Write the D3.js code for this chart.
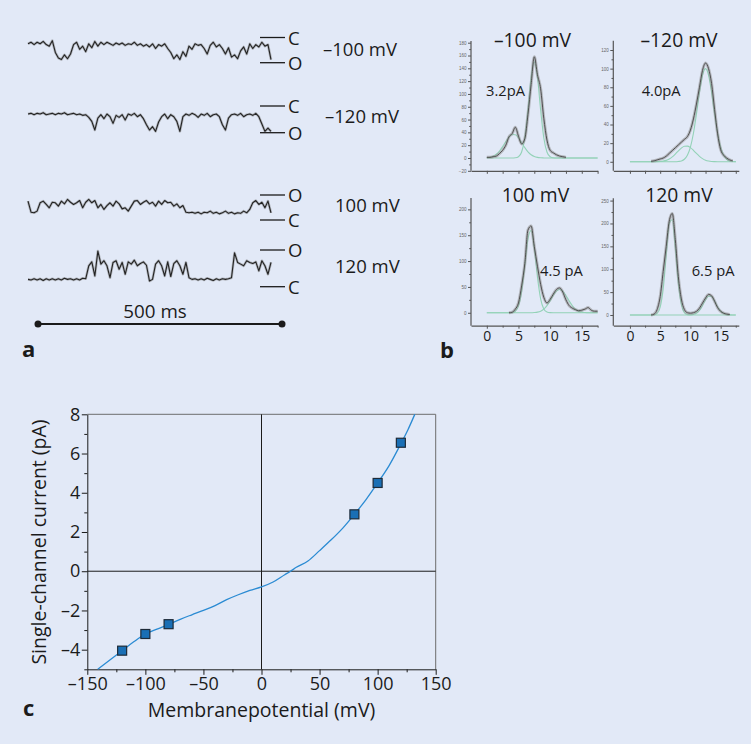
<!DOCTYPE html>
<html>
<head>
<meta charset="utf-8">
<script src="https://cdn.jsdelivr.net/npm/d3@7"></script>
<style>
  body { margin: 0; background: #e2e9f7; }
  svg { display: block; font-family: "Open Sans", Lato, sans-serif; }
</style>
</head>
<body>
<svg id="fig" width="751" height="744"></svg>
<script>
// ---------- panel a: single-channel recordings (current, pA, sampled over 500 ms) ----------
var traceLabels = ["–100 mV", "–120 mV", "100 mV", "120 mV"];
var openLevels = [-3.2, -4.0, 4.5, 6.5];

var traceM100 = [-0.8,-0.6,-0.9,-0.6,-0.8,-0.5,-0.9,-1.1,-0.4,-1.9,-2.6,-2.8,-2.2,-2.7,-2.1,-0.9,-0.6,-1.5,-1.1,-1.8,
  -0.8,-1.3,-0.5,-1.1,-0.6,-0.9,-0.6,-0.8,-1.0,-0.7,-0.9,-0.7,-1.0,-0.8,-0.9,-0.6,-1.0,-0.8,-1.1,-0.9,
  -1.2,-0.8,-1.4,-0.9,-1.1,-0.8,-1.4,-1.9,-2.7,-2.2,-2.8,-1.8,-2.4,-1.1,-1.5,-0.8,-1.0,-0.9,-1.4,-2.1,
  -1.0,-0.6,-1.2,-0.9,-1.4,-2.1,-1.3,-2.5,-2.2,-2.7,-1.7,-1.2,-2.1,-0.8,-1.4,-0.9,-1.2,-0.6,-1.1,-0.9,-2.8];
var traceM120 = [-1.2,-1.1,-1.3,-1.1,-1.2,-1.0,-1.3,-1.2,-1.1,-1.3,-1.1,-1.2,-1.0,-1.3,-1.2,-1.1,-1.3,-1.2,-1.4,-1.3,
  -1.7,-2.3,-3.6,-1.8,-1.3,-1.9,-1.2,-1.6,-2.6,-1.4,-1.7,-1.3,-2.1,-1.2,-1.4,-1.1,-1.6,-1.3,-1.9,-2.8,
  -3.6,-3.1,-3.8,-2.4,-1.6,-1.2,-1.9,-1.3,-1.6,-2.3,-3.8,-1.6,-1.2,-1.4,-1.1,-1.3,-1.7,-1.2,-1.4,-1.1,
  -1.6,-1.3,-1.2,-1.6,-2.8,-3.6,-1.8,-1.3,-1.2,-1.4,-1.1,-1.6,-1.3,-1.2,-1.4,-1.1,-1.6,-2.7,-3.8,-3.3,-3.8];
var trace100 = [3.4,1.4,1.3,1.6,3.1,3.4,2.8,2.2,3.2,3.1,2.5,3.4,2.9,3.7,3.2,2.8,3.1,3.5,2.2,3.2,
  3.7,3.1,3.5,2.2,2.8,1.9,2.6,3.1,2.5,3.4,2.9,2.0,2.2,1.6,2.5,3.4,3.5,2.8,3.2,3.5,
  2.9,3.2,2.5,3.4,2.8,3.5,3.1,3.2,2.5,2.9,2.2,2.6,1.4,1.3,1.4,1.2,1.4,1.1,1.4,1.3,
  1.6,1.2,1.4,1.1,1.3,1.6,1.2,1.4,1.1,1.3,1.2,1.6,1.3,1.9,3.1,3.5,2.8,3.2,2.2,3.4,1.3];
var trace120 = [1.3,1.2,1.4,1.2,1.4,1.1,1.4,1.2,1.4,1.2,1.4,1.2,1.5,1.3,1.4,1.2,1.4,1.2,1.5,1.4,
  3.7,4.4,1.9,6.3,4.0,4.6,3.7,1.6,4.3,4.6,3.1,4.3,2.2,4.4,4.0,4.7,3.7,4.1,4.4,3.8,
  1.0,1.3,4.0,4.6,3.7,1.9,4.4,1.8,4.1,4.6,3.7,2.2,4.3,1.6,1.3,1.4,1.2,1.4,1.2,1.5,
  1.3,1.1,1.4,1.2,1.4,1.3,1.4,1.6,6.0,4.3,4.0,3.7,4.6,4.3,4.1,4.4,2.8,4.6,3.7,2.2,4.3];
var traceDuration = 500; // ms

// ---------- panel b: amplitude histograms ----------
var histBins = [0,0.5,1,1.5,2,2.5,3,3.5,4,4.5,5,5.5,6,6.5,7,7.5,8,8.5,9,9.5,10,10.5,11,11.5,12,12.5,13,13.5,14,14.5,15,15.5,16,16.5,17,17.5];
var histTitles = ["–100 mV", "–120 mV", "100 mV", "120 mV"];
var histAmps = ["3.2pA", "4.0pA", "4.5 pA", "6.5 pA"];

var histM100 = [1,1,2,3,7,12,20,33,38,48,34,22,30,68,115,158,130,108,62,28,12,8,5,3,2,1,null,null,null,null,null,null,null,null,null,null];
var fitM100a = [0.4,1.1,2.7,5.8,10.8,17.7,25.6,32.6,36.6,36.2,31.4,24.0,16.2,9.6,5.0,2.3,0.9,0.3,0.1,0,0,0,0,0,0,0,0,0,0,0,0,0,0,0,0,0];
var fitM100b = [0,0,0,0,0,0,0,0,0,0.3,2.0,9.4,31.6,75,126,150,126,75,31.6,9.4,2.0,0.3,0,0,0,0,0,0,0,0,0,0,0,0,0,0];

var histM120 = [null,null,null,null,null,null,null,0.5,1,2,3,4,6,9,12,15,18,21,24,27,34,46,62,80,98,106,100,84,56,30,13,7,4,2,1,null];
var fitM120a = [0,0,0,0,0,0,0,0,0,0.1,0.3,0.7,1.5,3.0,5.3,8.3,11.7,14.7,16.7,16.8,15.2,12.3,8.9,5.8,3.4,1.7,0.8,0.3,0.1,0,0,0,0,0,0,0];
var fitM120b = [0,0,0,0,0,0,0,0,0,0,0,0,0,0,0,0,0.3,0.9,2.7,7.0,15.7,30.6,51.4,74.4,92.9,100,92.9,74.4,51.4,30.6,15.7,7.0,2.7,0.9,0.3,0.1];

var hist100 = [null,null,null,null,null,null,null,0,1,7,19,52,95,160,168,128,90,55,30,19,26,36,45,48,40,25,14,9,6,4,5,7,10,5,3,3];
var fit100a = [0,0,0,0,0,0,0,0,0.5,3.0,13,41,91,143,159,125,69,27,7.5,1.5,0.2,0,0,0,0,0,0,0,0,0,0,0,0,0,0,0];
var fit100b = [0,0,0,0,0,0,0,0,0,0,0,0,0,0,0,0.4,1.2,3.1,7.1,13.8,23,33.5,41.8,45,41.8,33.5,23,13.8,7.1,3.1,1.2,0.4,0,0,0,0];

var hist120 = [null,null,null,null,null,null,null,0,2,12,40,95,150,205,222,165,84,35,12,5,4,5,8,15,26,37,45,42,30,16,8,4,2,1,null,null];
var fit120a = [0,0,0,0,0,0,0,0,0.5,3.5,17,57,130,200,208,147,70,22.5,4.9,0.7,0,0,0,0,0,0,0,0,0,0,0,0,0,0,0,0];
var fit120b = [0,0,0,0,0,0,0,0,0,0,0,0,0,0,0,0,0,0,0,0,0.25,1.1,3.7,9.9,20.4,32.9,41.2,40.2,30.5,18,8.3,3.0,0.8,0.2,0,0];

// ---------- panel c: current-voltage relation ----------
var ivVoltage = [-120, -100, -80, 80, 100, 120];
var ivCurrent = [-4.05, -3.2, -2.7, 2.9, 4.5, 6.55];
var fitVoltage = [-141,-130,-120,-110,-100,-90,-80,-70,-60,-50,-40,-30,-20,-10,0,10,20,25,30,40,50,60,70,80,90,100,110,120,126,132];
var fitCurrent = [-5,-4.5,-4.05,-3.6,-3.2,-2.95,-2.72,-2.45,-2.22,-2.0,-1.75,-1.45,-1.2,-0.98,-0.8,-0.55,-0.18,0,0.2,0.52,1.05,1.6,2.2,2.9,3.65,4.5,5.4,6.5,7.2,8.0];
var ivXTicks = [-150, -100, -50, 0, 50, 100, 150];
var ivYTicks = [-4, -2, 0, 2, 4, 6, 8];

var svg = d3.select("#fig");
var ink = "#1b1b1b";
var dashFmt = function (d) { return d < 0 ? "–" + (-d) : String(d); };

svg.append("rect").attr("width", 751).attr("height", 744).attr("fill", "#e2e9f7");

// ===== panel a =====
var traceX = d3.scaleLinear().domain([0, traceDuration]).range([28, 271]);
var traceRows = [
  { data: traceM100, c: 37.5, o: 62.7, lx: 323, ly: 56 },
  { data: traceM120, c: 106, o: 132.7, lx: 325, ly: 122.7 },
  { data: trace100, c: 220, o: 195, lx: 335, ly: 211.7 },
  { data: trace120, c: 286.7, o: 250, lx: 335, ly: 273.3 }
];

traceRows.forEach(function (r, k) {
  var y = d3.scaleLinear().domain([0, openLevels[k]]).range([r.c, r.o]);
  var n = r.data.length;
  var line = d3.line()
    .x(function (d, i) { return traceX(i * traceDuration / (n - 1)); })
    .y(function (d) { return y(d); });

  svg.append("path")
    .attr("d", line(r.data))
    .attr("fill", "none")
    .attr("stroke", "#777")
    .attr("stroke-opacity", 0.45)
    .attr("stroke-width", 2.6)
    .attr("stroke-linejoin", "round");
  svg.append("path")
    .attr("d", line(r.data))
    .attr("fill", "none")
    .attr("stroke", "#222")
    .attr("stroke-width", 1.1)
    .attr("stroke-linejoin", "round");

  // closed / open reference marks
  [[0, "C"], [openLevels[k], "O"]].forEach(function (lv) {
    svg.append("line")
      .attr("x1", 260).attr("x2", 285)
      .attr("y1", y(lv[0])).attr("y2", y(lv[0]))
      .attr("stroke", ink).attr("stroke-width", 1.3);
    svg.append("text")
      .attr("x", 288).attr("y", y(lv[0]) + 7)
      .attr("font-size", 18.5).attr("fill", ink)
      .text(lv[1]);
  });

  svg.append("text")
    .attr("x", r.lx).attr("y", r.ly)
    .attr("font-size", 18.5).attr("fill", ink)
    .text(traceLabels[k]);
});

// 500 ms scale bar
var barX = d3.scaleLinear().domain([0, traceDuration]).range([38, 282]);
svg.append("line")
  .attr("x1", barX(0)).attr("x2", barX(traceDuration))
  .attr("y1", 324).attr("y2", 324)
  .attr("stroke", ink).attr("stroke-width", 2);
svg.selectAll("circle.bar")
  .data([0, traceDuration])
  .enter().append("circle")
  .attr("cx", function (d) { return barX(d); })
  .attr("cy", 324).attr("r", 3.5).attr("fill", ink);
svg.append("text")
  .attr("x", 155).attr("y", 318)
  .attr("text-anchor", "middle").attr("font-size", 18.8).attr("fill", ink)
  .text("500 ms");

// ===== panel b =====
var histPanels = [
  { hist: histM100, fa: fitM100a, fb: fitM100b, xd: [-2.5, 17.5], xr: [471, 597.6], yd: [-20, 180], yr: [170.8, 42.7], yTop: 41,
    yt: d3.range(-20, 181, 20), ym: d3.range(-10, 181, 20), labels: false, tx: 532.5, ty: 46.7, ax: 486, ay: 96 },
  { hist: histM120, fa: fitM120a, fb: fitM120b, xd: [-2.75, 18], xr: [613.3, 738.8], yd: [-9.7, 130], yr: [170.8, 40.7], yTop: 40.7,
    yt: d3.range(0, 121, 20), ym: d3.range(10, 121, 20), labels: false, tx: 679, ty: 46.7, ax: 641.7, ay: 96 },
  { hist: hist100, fa: fit100a, fb: fit100b, xd: [-2.5, 17.5], xr: [471, 597.6], yd: [-25, 222], yr: [325.7, 198], yTop: 198,
    yt: d3.range(0, 201, 50), ym: d3.range(25, 201, 50), labels: true, tx: 535.5, ty: 201.7, ax: 540, ay: 276 },
  { hist: hist120, fa: fit120a, fb: fit120b, xd: [-2.75, 18], xr: [613.3, 738.8], yd: [-23.4, 255], yr: [325.7, 198.3], yTop: 198.3,
    yt: d3.range(0, 251, 50), ym: d3.range(25, 251, 50), labels: true, tx: 679, ty: 201.7, ax: 691.7, ay: 276 }
];

histPanels.forEach(function (p, k) {
  var x = d3.scaleLinear().domain(p.xd).range(p.xr);
  var y = d3.scaleLinear().domain(p.yd).range(p.yr);
  var g = svg.append("g");

  // y axis with tiny labels
  var ya = g.append("g")
    .attr("transform", "translate(" + p.xr[0] + ",0)")
    .call(d3.axisLeft(y).tickValues(p.yt).tickSize(3).tickSizeOuter(0).tickPadding(1.5));
  ya.select(".domain").attr("d", "M0," + p.yr[0] + "V" + p.yTop);
  ya.selectAll("line").attr("stroke", "#555");
  ya.select(".domain").attr("stroke", "#555").attr("stroke-width", 1.2);
  ya.selectAll("text").attr("font-size", 4.5).attr("fill", "#666");
  g.append("g")
    .attr("transform", "translate(" + p.xr[0] + ",0)")
    .call(d3.axisLeft(y).tickValues(p.ym).tickSize(1.8).tickFormat(""))
    .call(function (s) { s.select(".domain").remove(); s.selectAll("line").attr("stroke", "#555"); });

  // x axis
  var xa = g.append("g")
    .attr("transform", "translate(0," + p.yr[0] + ")")
    .call(d3.axisBottom(x).tickValues(p.labels ? [0, 5, 10, 15] : []).tickSize(3).tickSizeOuter(0).tickPadding(2.5));
  xa.select(".domain").attr("stroke", "#555").attr("stroke-width", 1.2);
  xa.selectAll("line").attr("stroke", "#555");
  xa.selectAll("text").attr("font-size", 14).attr("fill", ink).attr("font-family", "'Open Sans', sans-serif");
  g.append("g")
    .attr("transform", "translate(0," + p.yr[0] + ")")
    .call(d3.axisBottom(x).tickValues(p.labels ? [2.5, 7.5, 12.5, 17.5] : [0, 2.5, 5, 7.5, 10, 12.5, 15, 17.5]).tickSize(p.labels ? 2 : 3).tickFormat(""))
    .call(function (s) { s.select(".domain").remove(); s.selectAll("line").attr("stroke", "#555"); });

  var line = d3.line()
    .defined(function (d) { return d !== null; })
    .x(function (d, i) { return x(histBins[i]); })
    .y(function (d) { return y(d); })
    .curve(d3.curveMonotoneX);

  // Gaussian fits
  [p.fa, p.fb].forEach(function (f) {
    g.append("path").attr("d", line(f))
      .attr("fill", "none").attr("stroke", "#93d2b7").attr("stroke-width", 1.1);
  });

  // histogram (noisy band + core line)
  g.append("path").attr("d", line(p.hist))
    .attr("fill", "none").attr("stroke", "#8a8a8a").attr("stroke-width", 3).attr("stroke-opacity", 0.5);
  g.append("path").attr("d", line(p.hist))
    .attr("fill", "none").attr("stroke", "#505050").attr("stroke-width", 1);

  g.append("text")
    .attr("x", p.tx).attr("y", p.ty)
    .attr("text-anchor", "middle").attr("font-size", 19.3).attr("fill", ink)
    .text(histTitles[k]);
  g.append("text")
    .attr("x", p.ax).attr("y", p.ay)
    .attr("font-size", 14.7).attr("fill", ink)
    .text(histAmps[k]);
});

// ===== panel c =====
var cx = d3.scaleLinear().domain([-150, 150]).range([87.3, 435.7]);
var cy = d3.scaleLinear().domain([-5, 8]).range([669.3, 414.3]);
var gc = svg.append("g");

// frame top/right
gc.append("path")
  .attr("d", "M" + cx(-150) + "," + cy(8) + "H" + cx(150) + "V" + cy(-5))
  .attr("fill", "none").attr("stroke", "#6d6d6d").attr("stroke-width", 1);

// zero lines
gc.append("line").attr("x1", cx(0)).attr("x2", cx(0)).attr("y1", cy(8)).attr("y2", cy(-5))
  .attr("stroke", ink).attr("stroke-width", 1);
gc.append("line").attr("x1", cx(-150)).attr("x2", cx(150)).attr("y1", cy(0)).attr("y2", cy(0))
  .attr("stroke", ink).attr("stroke-width", 1);

gc.append("g")
  .attr("transform", "translate(" + cx(-150) + ",0)")
  .call(d3.axisLeft(cy).tickValues(ivYTicks).tickSize(5.5).tickSizeOuter(0).tickPadding(1.5).tickFormat(dashFmt));
gc.append("g")
  .attr("transform", "translate(" + cx(-150) + ",0)")
  .call(d3.axisLeft(cy).tickValues([-5, -3, -1, 1, 3, 5, 7]).tickSize(3).tickFormat(""))
  .call(function (s) { s.select(".domain").remove(); });

gc.append("g")
  .attr("transform", "translate(0," + cy(-5) + ")")
  .call(d3.axisBottom(cx).tickValues(ivXTicks).tickSize(5.5).tickSizeOuter(0).tickPadding(2.5).tickFormat(dashFmt));
gc.append("g")
  .attr("transform", "translate(0," + cy(-5) + ")")
  .call(d3.axisBottom(cx).tickValues([-125, -75, -25, 25, 75, 125]).tickSize(3).tickFormat(""))
  .call(function (s) { s.select(".domain").remove(); });

gc.selectAll(".tick line, .domain").attr("stroke", ink);
gc.selectAll(".tick text").attr("font-size", 18).attr("fill", ink).attr("font-family", "'Open Sans', sans-serif");

// fitted curve
gc.append("path")
  .datum(fitVoltage.map(function (v, i) { return [v, fitCurrent[i]]; }))
  .attr("d", d3.line().x(function (d) { return cx(d[0]); }).y(function (d) { return cy(d[1]); }).curve(d3.curveMonotoneX))
  .attr("fill", "none").attr("stroke", "#2b8bd3").attr("stroke-width", 1.3);

// measured points
var sq = 9;
gc.selectAll("rect.pt")
  .data(ivVoltage.map(function (v, i) { return [v, ivCurrent[i]]; }))
  .enter().append("rect")
  .attr("x", function (d) { return cx(d[0]) - sq / 2; })
  .attr("y", function (d) { return cy(d[1]) - sq / 2; })
  .attr("width", sq).attr("height", sq)
  .attr("fill", "#1a6fb5").attr("stroke", "#1d2a38").attr("stroke-width", 1.2);

gc.append("text")
  .attr("x", cx(0)).attr("y", 717)
  .attr("text-anchor", "middle").attr("font-size", 19.5).attr("fill", ink)
  .text("Membranepotential (mV)");
gc.append("text")
  .attr("transform", "translate(46,542) rotate(-90)")
  .attr("text-anchor", "middle").attr("font-size", 19.5).attr("fill", ink)
  .text("Single-channel current (pA)");

// panel letters
[["a", 22, 357], ["b", 440, 358], ["c", 23, 716]].forEach(function (l) {
  svg.append("text")
    .attr("x", l[1]).attr("y", l[2])
    .attr("font-size", 22).attr("font-weight", "bold").attr("fill", ink)
    .text(l[0]);
});
</script>
</body>
</html>
